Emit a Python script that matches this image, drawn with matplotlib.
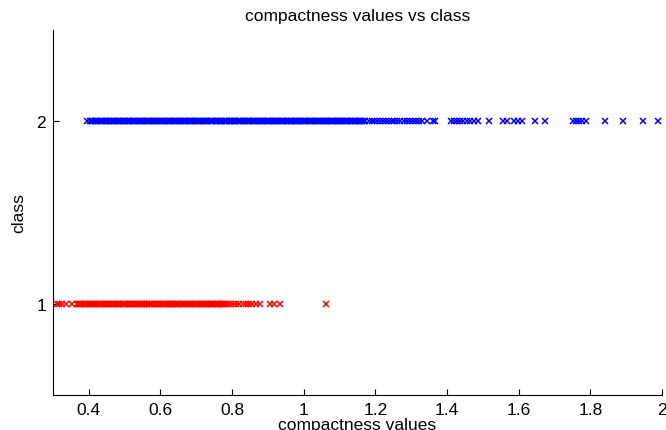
import matplotlib
matplotlib.use('Agg')
import matplotlib.pyplot as plt

# valores de compacidade, por classe
classe1 = [0.310, 0.318, 0.326, 0.335, 0.352, 0.366, 0.372, 0.379, 0.386, 0.391,
           0.398, 0.404, 0.411, 0.417, 0.425, 0.431, 0.438, 0.444, 0.452, 0.457,
           0.465, 0.471, 0.478, 0.485, 0.490, 0.498, 0.505, 0.511, 0.518, 0.524,
           0.531, 0.537, 0.545, 0.551, 0.558, 0.563, 0.571, 0.577, 0.584, 0.590,
           0.597, 0.604, 0.610, 0.617, 0.623, 0.630, 0.636, 0.643, 0.649, 0.656,
           0.662, 0.669, 0.676, 0.682, 0.689, 0.695, 0.702, 0.708, 0.715, 0.721,
           0.728, 0.734, 0.741, 0.747, 0.754, 0.761, 0.767, 0.774, 0.780, 0.786,
           0.795, 0.803, 0.812, 0.820, 0.829, 0.838, 0.846, 0.855, 0.866, 0.878,
           0.905, 0.918, 0.935, 1.062,
           0.369, 0.375, 0.382, 0.388, 0.395, 0.401, 0.408, 0.414, 0.421, 0.428,
           0.434, 0.441, 0.448, 0.454, 0.461, 0.468, 0.474, 0.481, 0.487, 0.494,
           0.501, 0.508, 0.514, 0.521, 0.527, 0.534, 0.541, 0.548, 0.554, 0.561,
           0.567, 0.574, 0.581, 0.587, 0.594, 0.600, 0.607, 0.613, 0.620, 0.627,
           0.633, 0.640, 0.646, 0.653, 0.659, 0.666, 0.672, 0.679, 0.686, 0.692,
           0.699, 0.705, 0.712, 0.718, 0.725, 0.731, 0.738, 0.744, 0.751, 0.757,
           0.764, 0.771, 0.777, 0.783]
classe2 = [0.395, 0.402, 0.409, 0.416, 0.421, 0.429, 0.434, 0.441, 0.447, 0.453,
           0.459, 0.466, 0.471, 0.479, 0.484, 0.491, 0.497, 0.504, 0.510, 0.516,
           0.523, 0.529, 0.536, 0.543, 0.549, 0.556, 0.562, 0.568, 0.575, 0.582,
           0.588, 0.594, 0.601, 0.607, 0.614, 0.621, 0.627, 0.633, 0.640, 0.646,
           0.653, 0.660, 0.666, 0.672, 0.679, 0.686, 0.692, 0.698, 0.705, 0.711,
           0.718, 0.725, 0.731, 0.737, 0.744, 0.751, 0.757, 0.763, 0.770, 0.776,
           0.783, 0.790, 0.796, 0.802, 0.809, 0.815, 0.822, 0.829, 0.835, 0.841,
           0.848, 0.855, 0.861, 0.867, 0.874, 0.880, 0.887, 0.894, 0.900, 0.906,
           0.913, 0.919, 0.926, 0.933, 0.939, 0.945, 0.952, 0.958, 0.965, 0.972,
           0.978, 0.984, 0.991, 0.997, 1.004, 1.011, 1.017, 1.023, 1.030, 1.036,
           1.043, 1.050, 1.056, 1.062, 1.069, 1.075, 1.082, 1.089, 1.095, 1.101,
           1.108, 1.114, 1.121, 1.128, 1.134, 1.140, 1.147, 1.153, 1.160, 1.167,
           1.172, 1.181, 1.190, 1.197, 1.205, 1.213, 1.222, 1.230, 1.238, 1.246,
           1.253, 1.261, 1.268, 1.281, 1.289, 1.297, 1.305, 1.313, 1.322, 1.330,
           1.344, 1.360, 1.366, 1.411, 1.420, 1.428, 1.437, 1.445, 1.455, 1.465,
           1.475, 1.487, 1.517, 1.555, 1.568, 1.587, 1.598, 1.609, 1.645, 1.673,
           1.752, 1.760, 1.768, 1.777, 1.787, 1.841, 1.892, 1.947, 1.990,
           0.406, 0.412, 0.419, 0.425, 0.437, 0.444, 0.450, 0.456, 0.462, 0.469,
           0.475, 0.481, 0.488, 0.494, 0.500, 0.507, 0.513, 0.520, 0.526, 0.533,
           0.539, 0.546, 0.552, 0.559, 0.565, 0.572, 0.578, 0.585, 0.591, 0.598,
           0.604, 0.611, 0.617, 0.624, 0.630, 0.637, 0.643, 0.650, 0.656, 0.663,
           0.669, 0.676, 0.682, 0.689, 0.695, 0.702, 0.708, 0.715, 0.721, 0.728,
           0.734, 0.741, 0.747, 0.754, 0.760, 0.767, 0.773, 0.780, 0.786, 0.793,
           0.799, 0.806, 0.812, 0.819, 0.825, 0.832, 0.838, 0.845, 0.851, 0.858,
           0.864, 0.871, 0.877, 0.884, 0.890, 0.897, 0.903, 0.910, 0.916, 0.923,
           0.929, 0.936, 0.942, 0.949, 0.955, 0.962, 0.968, 0.975, 0.981, 0.988,
           0.994, 1.001, 1.007, 1.014, 1.020, 1.027, 1.033, 1.040, 1.046, 1.053,
           1.059, 1.066, 1.072, 1.079, 1.085, 1.092, 1.098, 1.105, 1.111, 1.118,
           1.124, 1.131, 1.137, 1.144, 1.150, 1.157, 1.163]

xticks = [0.4, 0.6, 0.8, 1, 1.2, 1.4, 1.6, 1.8, 2]
xticklabels = ['0.4', '0.6', '0.8', '1', '1.2', '1.4', '1.6', '1.8', '2']
yticks = [1, 2]

plt.rcParams['font.family'] = ['Liberation Sans', 'DejaVu Sans']
plt.rcParams['font.size'] = 12.5

fig = plt.figure(figsize=(6.66, 4.31), dpi=100)
ax = fig.add_axes([0.0796, 0.0812, 0.9144, 0.8468])

ax.plot(classe1, [1] * len(classe1), 'x', color=(1, 0, 0), markersize=5, markeredgewidth=1.1, clip_on=False)
ax.plot(classe2, [2] * len(classe2), 'x', color=(0, 0, 1), markersize=5, markeredgewidth=1.1, clip_on=False)

ax.set_xlim(0.3, 2)
ax.set_ylim(0.5, 2.5)
ax.set_xticks(xticks)
ax.set_xticklabels(xticklabels)
ax.set_yticks(yticks)
ax.tick_params(direction='in', length=4, width=0.8, pad=5)
ax.spines['top'].set_visible(False)
ax.spines['right'].set_visible(False)
ax.spines['left'].set_linewidth(0.8)
ax.spines['bottom'].set_linewidth(0.8)

ax.set_title('compactness values vs class', fontsize=12.5, pad=7)
ax.set_xlabel('compactness values', labelpad=0)
ax.set_ylabel('class', labelpad=7)

fig.savefig('out.png', dpi=100)
